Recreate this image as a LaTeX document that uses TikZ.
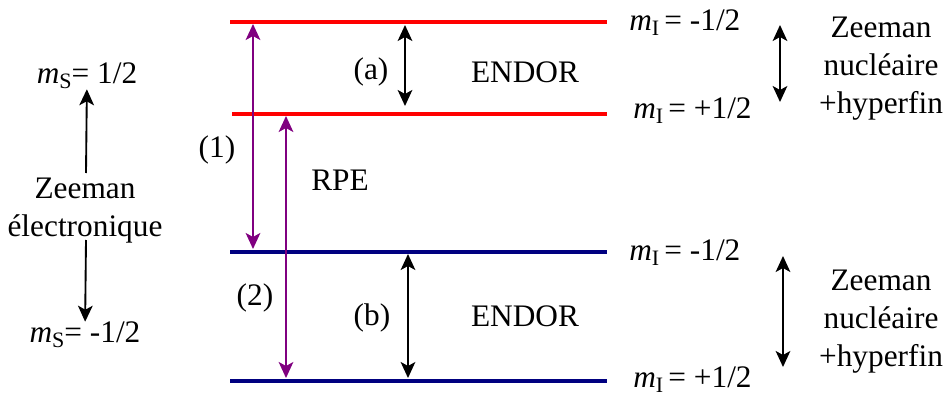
\documentclass[tikz,border=0pt]{standalone}
\usepackage{fontspec}
\setmainfont{Liberation Serif}
\usepackage{tikz}
\usetikzlibrary{positioning,calc}
\usetikzlibrary{arrows.meta}
\definecolor{LevRed}{RGB}{255,0,0}
\definecolor{LevBlue}{RGB}{0,0,128}
\definecolor{TransPurple}{RGB}{128,0,128}
\newcommand{\msub}[1]{\textit{m}\raisebox{-0.35ex}{\fontsize{16.5}{16.5}\selectfont #1}}
\tikzset{
  lev/.style={line width=2.4pt},
  trans/.style={draw=TransPurple,line width=1.4pt,{Stealth[length=12pt,width=11pt,inset=3pt]}-{Stealth[length=12pt,width=11pt,inset=3pt]}},
  gap/.style={draw=black,line width=1.4pt,{Stealth[length=12pt,width=11pt,inset=3pt]}-{Stealth[length=12pt,width=11pt,inset=3pt]}},
  onehead/.style={draw=black,line width=1.4pt,-{Stealth[length=12pt,width=11pt,inset=3pt]}},
  lbl/.style={inner sep=0pt,font=\fontsize{23.5}{28.5}\selectfont},
}

\begin{document}
\begin{tikzpicture}[x=0.75pt,y=-0.75pt]
\useasboundingbox (0,0) rectangle (943,396);
% levels
\coordinate (r1w) at (230,22);
\coordinate (r1e) at (607,22);
\coordinate (r2w) at (232,114);
\coordinate (r2e) at (607,114);
\coordinate (b1w) at (230,252);
\coordinate (b1e) at (607,252);
\coordinate (b2w) at (230,381);
\coordinate (b2e) at (607,381);
\draw[lev,LevRed] (r1w) -- (r1e);
\draw[lev,LevRed] (r2w) -- (r2e);
\draw[lev,LevBlue] (b1w) -- (b1e);
\draw[lev,LevBlue] (b2w) -- (b2e);
% transitions
\coordinate (t1a) at (253,24);
\coordinate (t1b) at (253,249);
\coordinate (t2a) at (286,116);
\coordinate (t2b) at (286,378);
\coordinate (ta) at (405,25);
\coordinate (tb) at (405,106);
\coordinate (ua) at (408,254);
\coordinate (ub) at (408,378);
\draw[trans] (t1a) -- (t1b);
\draw[trans] (t2a) -- (t2b);
\draw[gap] (ta) -- (tb);
\draw[gap] (ua) -- (ub);
\node[lbl] (la) at (371,72) {(a)};
\node[lbl] (lb) at (372,318) {(b)};
\node[lbl] (l1) at (217,150) {(1)};
\node[lbl] (l2) at (255,298) {(2)};
\node[lbl] (endor1) at (525,72) {ENDOR};
\node[lbl] (endor2) at (525,316) {ENDOR};
\node[lbl] (rpe) at (340,180) {RPE};
% nuclear levels
\node[lbl,anchor=west] (mi1) at (629,23) {\msub{I}\,= -1/2};
\node[lbl,anchor=west] (mi2) at (633,111) {\msub{I}\,= +1/2};
\node[lbl,anchor=west] (mi3) at (629,253) {\msub{I}\,= -1/2};
\node[lbl,anchor=west] (mi4) at (633,380) {\msub{I}\,= +1/2};
\coordinate (za) at (780,25);
\coordinate (zb) at (780,102);
\coordinate (zc) at (783,256);
\coordinate (zd) at (783,367);
\draw[gap] (za) -- (zb);
\draw[gap] (zc) -- (zd);
\node[lbl,align=center] (zn1) at (881,69) {Zeeman\\nucléaire\\+hyperfin};
\node[lbl,align=center] (zn2) at (881,322) {Zeeman\\nucléaire\\+hyperfin};
% electronic levels
\node[lbl] (ms1) at (87,76) {\msub{S}= 1/2};
\node[lbl] (ms2) at (85,335) {\msub{S}= -1/2};
\node[lbl,align=center] (ze) at (85,211) {Zeeman\\électronique};
\coordinate (ea) at (86,173);
\coordinate (eb) at (86,240);
\draw[onehead] (ea) -- (ms1);
\draw[onehead] (eb) -- (ms2);
\end{tikzpicture}
\end{document}
